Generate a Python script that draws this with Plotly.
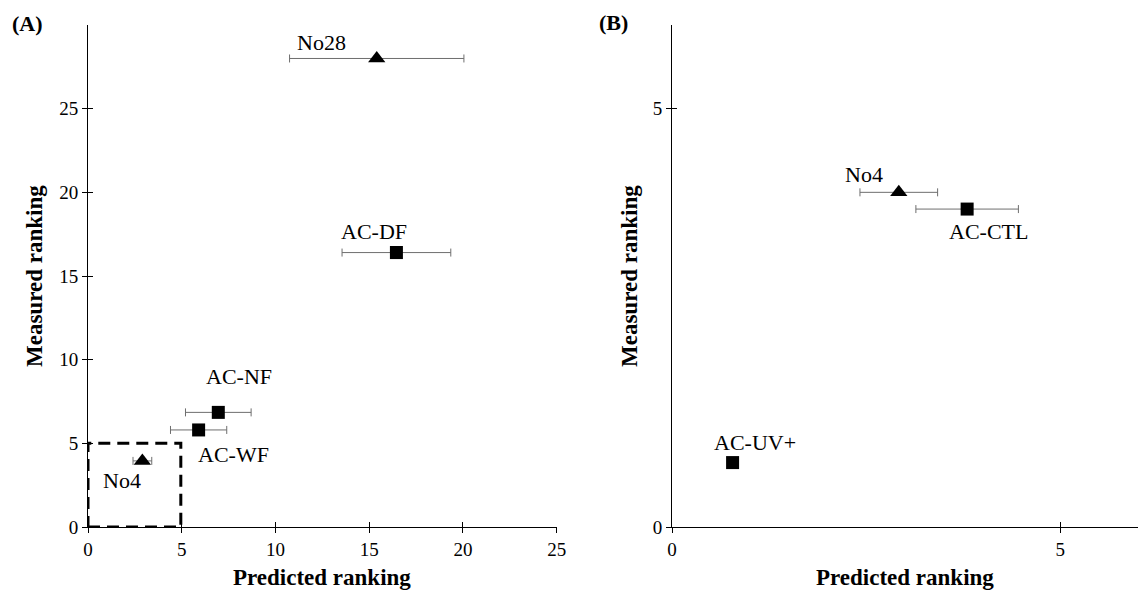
import plotly.graph_objects as go

# ---------------- data ----------------
a_names = ["No28", "AC-DF", "AC-NF", "AC-WF", "No4"]
a_predicted = [15.4, 16.45, 6.95, 5.9, 2.9]
a_pred_err = [4.65, 2.9, 1.75, 1.5, 0.5]
a_measured = [28.0, 16.4, 6.85, 5.8, 3.95]

b_names = ["No4", "AC-CTL", "AC-UV+"]
b_predicted = [2.92, 3.8, 0.78]
b_pred_err = [0.5, 0.66, 0.0]
b_measured = [4.0, 3.8, 0.77]

zoom_box = [0, 4.95, 0, 5]  # x0, x1, y0, y1 of the region shown in (B)

# label offsets in pixels (dx right, dy up)
a_label_shift = {"No28": (-55, 16), "AC-DF": (-22, 21), "AC-NF": (21, 36),
                 "AC-WF": (35, -25), "No4": (-20, -20)}
b_label_shift = {"No4": (-35, 18), "AC-CTL": (21, -22), "AC-UV+": (22, 20)}

FONT = "Liberation Serif, Times New Roman, serif"
ERR_COLOR = "#6e6e6e"


def symbol_for(name):
    return "triangle-up" if name.startswith("No") else "square"


fig = go.Figure()

for names, xs, errs, ys, xa, ya in [
    (a_names, a_predicted, a_pred_err, a_measured, "x", "y"),
    (b_names, b_predicted, b_pred_err, b_measured, "x2", "y2"),
]:
    for n, x, e, y in zip(names, xs, errs, ys):
        fig.add_trace(go.Scatter(
            x=[x], y=[y], mode="markers", xaxis=xa, yaxis=ya,
            marker=dict(symbol=symbol_for(n), color="black",
                        size=15 if symbol_for(n) == "triangle-up" else 13,
                        line=dict(width=0)),
            error_x=dict(type="data", array=[e], visible=e > 0,
                         color=ERR_COLOR, thickness=1, width=4),
            showlegend=False, hoverinfo="skip", name=n))

# invisible traces for overlay axes (inner half of crossing ticks)
fig.add_trace(go.Scatter(x=[1], y=[1], xaxis="x3", yaxis="y3", mode="markers",
                         marker=dict(opacity=0), showlegend=False, hoverinfo="skip"))
fig.add_trace(go.Scatter(x=[1], y=[1], xaxis="x4", yaxis="y4", mode="markers",
                         marker=dict(opacity=0), showlegend=False, hoverinfo="skip"))

ax_common = dict(showgrid=False, zeroline=False, showline=True, linecolor="black",
                 linewidth=1, ticks="outside", ticklen=5, tickcolor="black",
                 tickwidth=1, automargin=False,
                 tickfont=dict(family=FONT, size=19, color="black"))
ov_common = dict(showline=False, showgrid=False, zeroline=False, ticks="inside",
                 ticklen=5, tickcolor="black", tickwidth=1, showticklabels=False,
                 automargin=False)

L_DOM = [0.0, 0.4464]
R_DOM = [0.5562, 1.0]

fig.update_layout(
    template="none",
    width=1138, height=594,
    margin=dict(l=88, r=0, t=25, b=67, autoexpand=False),
    paper_bgcolor="white", plot_bgcolor="rgba(0,0,0,0)",
    xaxis=dict(domain=L_DOM, range=[0, 25], tickvals=[0, 5, 10, 15, 20, 25],
               anchor="y", **ax_common),
    yaxis=dict(domain=[0, 1], range=[0, 30], tickvals=[0, 5, 10, 15, 20, 25],
               anchor="x", **ax_common),
    xaxis2=dict(domain=R_DOM, range=[0, 6], tickvals=[0, 5], anchor="y2", **ax_common),
    yaxis2=dict(domain=[0, 1], range=[0, 6], tickvals=[0, 5], anchor="x2", **ax_common),
    xaxis3=dict(overlaying="x", range=[0, 25], tickvals=[0, 5, 10, 15, 20, 25],
                anchor="y3", **ov_common),
    yaxis3=dict(overlaying="y", range=[0, 30], tickvals=[0, 5, 10, 15, 20, 25],
                anchor="x3", **ov_common),
    xaxis4=dict(overlaying="x2", range=[0, 6], tickvals=[0, 5], anchor="y4", **ov_common),
    yaxis4=dict(overlaying="y2", range=[0, 6], tickvals=[0, 5], anchor="x4", **ov_common),
)

fig.add_shape(type="rect", xref="x", yref="y", x0=zoom_box[0], x1=zoom_box[1],
              y0=zoom_box[2], y1=zoom_box[3],
              line=dict(color="black", width=3, dash="12px,7px"), layer="above")

annotations = []
for names, xs, ys, shifts, xr, yr in [
    (a_names, a_predicted, a_measured, a_label_shift, "x", "y"),
    (b_names, b_predicted, b_measured, b_label_shift, "x2", "y2"),
]:
    for n, x, y in zip(names, xs, ys):
        dx, dy = shifts[n]
        annotations.append(dict(x=x, y=y, xref=xr, yref=yr, text=n, showarrow=False,
                                xshift=dx, yshift=dy,
                                font=dict(family=FONT, size=22, color="black")))

TITLE_FONT = dict(family=FONT, size=23, color="black")
PANEL_FONT = dict(family=FONT, size=22, color="black")
annotations += [
    dict(text="<b>Predicted ranking</b>", xref="x domain", yref="paper", x=0.5, y=-0.1,
         yanchor="middle", showarrow=False, font=TITLE_FONT),
    dict(text="<b>Predicted ranking</b>", xref="x2 domain", yref="paper", x=0.5, y=-0.1,
         yanchor="middle", showarrow=False, font=TITLE_FONT),
    dict(text="<b>Measured ranking</b>", xref="paper", yref="paper",
         x=(34 - 88) / 1050, y=0.5, textangle=-90, showarrow=False,
         xanchor="center", yanchor="middle", font=TITLE_FONT),
    dict(text="<b>Measured ranking</b>", xref="paper", yref="paper",
         x=(629 - 88) / 1050, y=0.5, textangle=-90, showarrow=False,
         xanchor="center", yanchor="middle", font=TITLE_FONT),
    dict(text="<b>(A)</b>", xref="paper", yref="paper", x=(27 - 88) / 1050,
         y=(527 - 23) / 502, xanchor="center", yanchor="middle", showarrow=False,
         font=PANEL_FONT),
    dict(text="<b>(B)</b>", xref="paper", yref="paper", x=(613 - 88) / 1050,
         y=(527 - 22) / 502, xanchor="center", yanchor="middle", showarrow=False,
         font=PANEL_FONT),
]
fig.update_layout(annotations=annotations)

fig.write_html("out.html")
